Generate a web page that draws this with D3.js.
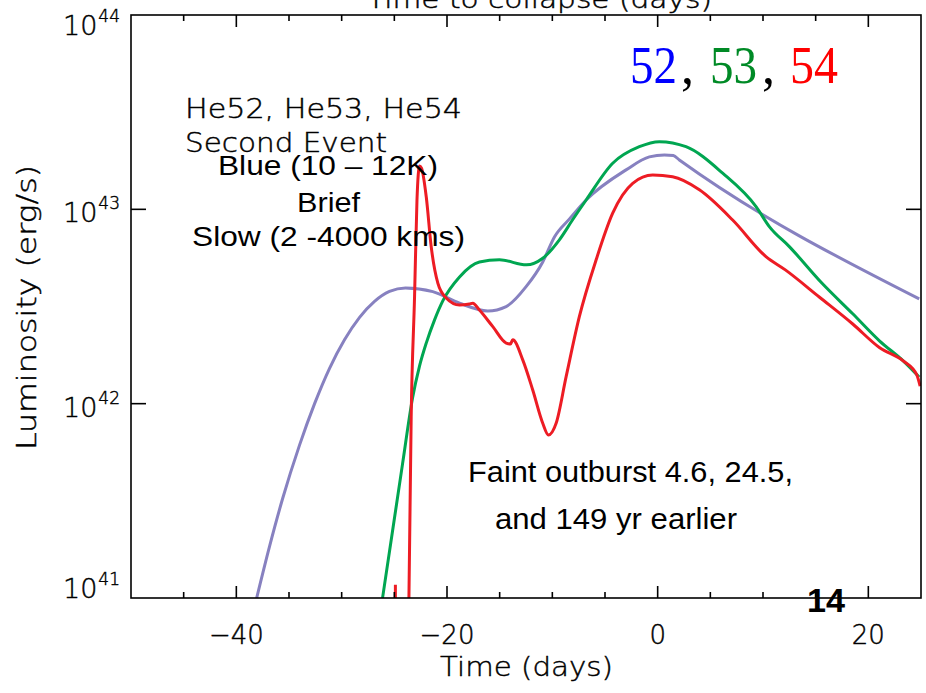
<!DOCTYPE html>
<html>
<head>
<meta charset="utf-8">
<script src="https://cdn.jsdelivr.net/npm/d3@7/dist/d3.min.js"></script>
<style>
  html, body { margin: 0; padding: 0; background: #fff; }
  svg { display: block; }
  .hershey { font-family: "DejaVu Sans", sans-serif; font-weight: 200; fill: #000; stroke: #000; stroke-width: 0.45px; }
  .arial { font-family: "Liberation Sans", Arial, sans-serif; fill: #000; }
  .times { font-family: "Liberation Serif", "Times New Roman", serif; }
</style>
</head>
<body>
<script>
// ---------- data (time in days, luminosity in erg/s) ----------
const he52T = [-38.07, -36.84, -35.61, -34.0, -32.57, -31.15, -29.73, -28.30, -26.88, -25.46, -23.94, -21.35, -18.81, -16.13, -14.38, -12.49, -10.91, -9.80, -8.37, -6.79, -3.00, -0.79, 0.64, 1.49, 2.06, 24.83];
const he52L = [1.0e41, 1.85e41, 3.24e41, 6.12e41, 1.0e42, 1.52e42, 2.13e42, 2.78e42, 3.36e42, 3.78e42, 3.94e42, 3.77e42, 3.29e42, 3.00e42, 3.16e42, 4.00e42, 5.36e42, 7.21e42, 8.93e42, 1.117e43, 1.596e43, 1.862e43, 1.905e43, 1.89e43, 1.795e43, 3.46e42];

const he53T = [-26.12, -25.17, -24.22, -23.27, -22.61, -21.97, -21.18, -20.40, -18.81, -16.92, -15.02, -12.46, -10.91, -9.33, -8.09, -6.79, -4.27, -1.74, 0.16, 2.69, 6.17, 9.34, 10.6, 12.5, 15.63, 18.52, 21.08, 23.31, 24.83];
const he53L = [1.0e41, 2.21e41, 4.90e41, 1.07e42, 1.56e42, 2.05e42, 2.70e42, 3.38e42, 4.49e42, 5.36e42, 5.50e42, 5.18e42, 5.60e42, 6.97e42, 8.81e42, 1.117e43, 1.726e43, 2.10e43, 2.23e43, 2.10e43, 1.535e43, 1.033e43, 8.15e42, 6.43e42, 4.15e42, 2.90e42, 2.10e42, 1.66e42, 1.37e42];

const he54T = [-23.62, -23.40, -23.08, -22.85, -22.61, -22.42, -21.97, -21.5, -20.87, -20.08, -18.81, -17.87, -17.55, -16.92, -15.65, -14.38, -13.97, -13.76, -12.81, -11.86, -10.91, -10.37, -9.64, -8.69, -7.43, -5.84, -4.27, -2.37, -0.47, 1.42, 3.96, 7.12, 10.28, 12.12, 15.34, 18.52, 21.08, 23.31, 24.59, 24.92];
const he54L = [0.95e41, 8.57e41, 3.56e42, 1.117e43, 1.67e43, 1.63e43, 1.16e43, 6.43e42, 4.17e42, 3.50e42, 3.22e42, 3.26e42, 3.29e42, 3.03e42, 2.49e42, 2.05e42, 2.03e42, 2.13e42, 1.68e42, 1.175e42, 7.93e41, 6.90e41, 7.93e41, 1.377e42, 2.81e42, 5.50e42, 9.55e42, 1.36e43, 1.50e43, 1.47e43, 1.26e43, 8.81e42, 5.71e42, 4.88e42, 3.54e42, 2.57e42, 1.94e42, 1.66e42, 1.41e42, 1.23e42];

// small early red stub
const he54StubT = [-24.9, -24.9];
const he54StubL = [0.95e41, 1.17e41];

const xTickValues = [-45, -40, -35, -30, -25, -20, -15, -10, -5, 0, 5, 10, 15, 20];
const xMajorTicks = [-40, -20, 0, 20];
const yTickExponents = [41, 42, 43, 44];

// ---------- layout ----------
const W = 926, H = 693;
const pL = 131, pR = 921, pT = 15, pB = 598;

const svg = d3.select("body").append("svg").attr("width", W).attr("height", H);

const x = d3.scaleLinear().domain([-50, 25]).range([pL, pR]);
const y = d3.scaleLog().domain([1e41, 1e44]).range([pB, pT]);

svg.append("defs").append("clipPath").attr("id", "plotclip")
  .append("rect").attr("x", pL).attr("y", pT).attr("width", pR - pL).attr("height", pB - pT);

const line = d3.line().x(d => x(d[0])).y(d => y(d[1])).curve(d3.curveMonotoneX);
const zip = (a, b) => a.map((v, i) => [v, b[i]]);

const curves = svg.append("g").attr("clip-path", "url(#plotclip)").attr("fill", "none").attr("stroke-width", 3).attr("stroke-linejoin", "round");
curves.append("path").attr("d", line(zip(he52T, he52L))).attr("stroke", "#8781c0");
curves.append("path").attr("d", line(zip(he53T, he53L))).attr("stroke", "#00a651");
curves.append("path").attr("d", d3.line().x(d => x(d[0])).y(d => y(d[1]))(zip(he54StubT, he54StubL))).attr("stroke", "#ed1c24");
curves.append("path").attr("d", line(zip(he54T, he54L))).attr("stroke", "#ed1c24");

// ---------- axes ----------
const ax = svg.append("g").attr("stroke", "#000").attr("stroke-width", 1.6).attr("fill", "none");
ax.append("rect").attr("x", pL).attr("y", pT).attr("width", pR - pL).attr("height", pB - pT);

xTickValues.forEach(v => {
  const len = xMajorTicks.includes(v) ? 12 : 6;
  ax.append("line").attr("x1", x(v)).attr("x2", x(v)).attr("y1", pB).attr("y2", pB - len);
  ax.append("line").attr("x1", x(v)).attr("x2", x(v)).attr("y1", pT).attr("y2", pT + len);
});
yTickExponents.slice(1, -1).forEach(e => {
  const yy = y(Math.pow(10, e));
  ax.append("line").attr("x1", pL).attr("x2", pL + 15).attr("y1", yy).attr("y2", yy);
  ax.append("line").attr("x1", pR).attr("x2", pR - 15).attr("y1", yy).attr("y2", yy);
});

// x tick labels
xMajorTicks.forEach(v => {
  svg.append("text").attr("class", "hershey").attr("x", x(v)).attr("y", 644)
    .attr("text-anchor", "middle").attr("font-size", 26)
    .text(v < 0 ? "\u2212" + Math.abs(v) : String(v));
});

// y tick labels
yTickExponents.forEach(e => {
  const yy = y(Math.pow(10, e));
  const base = Math.min(Math.max(yy + 13, pT + 20), pB);
  const t = svg.append("text").attr("class", "hershey").attr("x", 63).attr("y", base);
  t.append("tspan").attr("font-size", 27).text("10");
  t.append("tspan").attr("font-size", 17).attr("dy", -13).attr("dx", 1).text(String(e));
});

// axis titles
svg.append("text").attr("class", "hershey").attr("x", 440).attr("y", 676)
  .attr("font-size", 27).attr("textLength", 173).attr("lengthAdjust", "spacingAndGlyphs").text("Time (days)");
svg.append("text").attr("class", "hershey").attr("x", 367).attr("y", 8)
  .attr("font-size", 25).attr("textLength", 345).attr("lengthAdjust", "spacingAndGlyphs").text("Time to collapse (days)");
svg.append("text").attr("class", "hershey")
  .attr("transform", "translate(36,450) rotate(-90)")
  .attr("font-size", 26).attr("textLength", 285).attr("lengthAdjust", "spacingAndGlyphs").text("Luminosity (erg/s)");

// ---------- annotations ----------
svg.append("text").attr("class", "hershey").attr("x", 185).attr("y", 118)
  .attr("font-size", 26).attr("textLength", 277).attr("lengthAdjust", "spacingAndGlyphs").text("He52, He53, He54");
svg.append("text").attr("class", "hershey").attr("x", 185).attr("y", 152)
  .attr("font-size", 26).attr("textLength", 202).attr("lengthAdjust", "spacingAndGlyphs").text("Second Event");

function arial(txt, xx, yy, fs, len, weight) {
  svg.append("text").attr("class", "arial").attr("x", xx).attr("y", yy)
    .attr("font-size", fs).attr("font-weight", weight || "normal")
    .attr("textLength", len).attr("lengthAdjust", "spacingAndGlyphs").text(txt);
}
arial("Blue (10 \u2013 12K)", 218, 175, 27, 220);
arial("Brief", 297, 212, 27, 63);
arial("Slow (2 -4000 kms)", 192, 246, 27, 273);
arial("Faint outburst 4.6, 24.5,", 468, 482, 29, 325);
arial("and 149 yr earlier", 495, 529, 29, 242);
arial("14", 807, 612, 34, 38, "bold");

function times(txt, xx, color, len) {
  const t = svg.append("text").attr("class", "times").attr("x", xx).attr("y", 83)
    .attr("font-size", 52).attr("fill", color).text(txt);
  if (len) t.attr("textLength", len).attr("lengthAdjust", "spacingAndGlyphs");
}
times("52", 630, "#0000ff", 47);
times(",", 681, "#000", null);
times("53", 710, "#008a26", 47);
times(",", 762, "#000", null);
times("54", 790, "#ff0000", 48);
</script>
</body>
</html>
